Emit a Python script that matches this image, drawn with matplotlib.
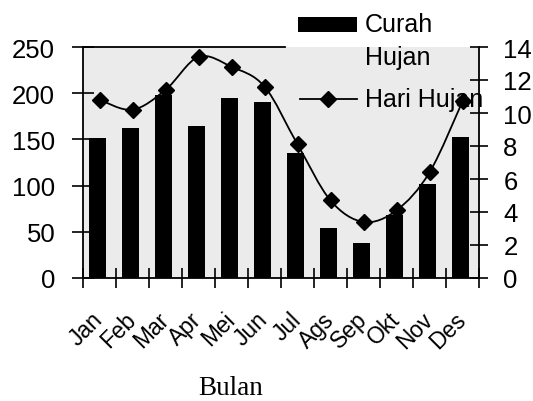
import matplotlib.pyplot as plt
import numpy as np
from matplotlib.path import Path
from matplotlib.patches import PathPatch, Rectangle
from matplotlib.lines import Line2D
from matplotlib.transforms import ScaledTranslation

plt.rcParams['font.family'] = ['Liberation Sans', 'DejaVu Sans']

# data
bulan = ['Jan', 'Feb', 'Mar', 'Apr', 'Mei', 'Jun', 'Jul', 'Ags', 'Sep', 'Okt', 'Nov', 'Des']
curah_hujan = [151, 162, 198, 164, 195, 191, 135, 54, 38, 68, 102, 153]
hari_hujan = [10.8, 10.2, 11.4, 13.4, 12.8, 11.6, 8.1, 4.7, 3.4, 4.1, 6.4, 10.7]


def smooth_path(xs, ys):
    # cubic bezier through the points (like a spreadsheet "smoothed line")
    pts = np.column_stack([xs, ys]).astype(float)
    ext = np.vstack([pts[0], pts, pts[-1]])
    verts = [pts[0]]
    codes = [Path.MOVETO]
    for i in range(len(pts) - 1):
        p0, p1, p2, p3 = ext[i], ext[i + 1], ext[i + 2], ext[i + 3]
        verts += [p1 + (p2 - p0) / 6, p2 - (p3 - p1) / 6, p2]
        codes += [Path.CURVE4] * 3
    return Path(verts, codes)


fig = plt.figure(figsize=(5.33, 4.02), dpi=100)
W, H = 533, 402
ax = fig.add_axes([83 / W, 1 - 279 / H, 396 / W, 231 / H])
ax.set_facecolor('#ebebeb')

x = np.arange(len(bulan))
ax.bar(x - 0.06, curah_hujan, width=0.52, color='black', zorder=2)
ax.set_xlim(-0.5, len(bulan) - 0.5)
ax.set_ylim(0, 250)
ax.set_yticks(range(0, 251, 50))

# ticks on category boundaries, labels on centres
ax.set_xticks(np.arange(-0.5, len(bulan), 1))
ax.set_xticklabels([])
ax.set_xticks(x, minor=True)
ax.set_xticklabels(bulan, minor=True, rotation=45, ha='right', va='center',
                   rotation_mode='anchor', fontsize=16.5)
shift = ScaledTranslation(-0.12, 0, fig.dpi_scale_trans)
for lab in ax.get_xticklabels(minor=True):
    lab.set_transform(lab.get_transform() + shift)
ax.tick_params(axis='x', which='minor', length=0, pad=27)
ax.tick_params(axis='x', which='major', direction='inout', length=15, width=1.2)
ax.tick_params(axis='y', direction='inout', length=16, width=1.2, labelsize=18.5, pad=12)

for s in ['top', 'right']:
    ax.spines[s].set_visible(False)
for s in ['left', 'bottom']:
    ax.spines[s].set_linewidth(1.3)
ax.axhline(250, xmin=0, xmax=0.51, color='black', lw=1.3, clip_on=False)

ax2 = ax.twinx()
ax2.set_ylim(0, 14)
ax2.set_yticks(range(0, 15, 2))
ax2.tick_params(axis='y', direction='inout', length=13, width=1.2, labelsize=18.5, pad=11)
for s in ['top', 'left', 'bottom']:
    ax2.spines[s].set_visible(False)
ax2.spines['right'].set_linewidth(1.3)

ax2.add_patch(PathPatch(smooth_path(x, hari_hujan), facecolor='none',
                        edgecolor='black', lw=1.3, zorder=3))
ax2.plot(x, hari_hujan, 'D', color='black', ms=8, zorder=4)

# legend drawn by hand to follow the reference layout
ft = fig.transFigure
fig.patches.append(Rectangle((298 / W, 1 - 33 / H), 59 / W, 15 / H,
                             facecolor='black', edgecolor='none', transform=ft, figure=fig))
fig.text(365 / W, 1 - 25 / H, 'Curah', fontsize=18, va='center', transform=ft)
fig.text(365 / W, 1 - 58 / H, 'Hujan', fontsize=18, va='center', transform=ft)
fig.lines.append(Line2D([300 / W, 357 / W], [1 - 100 / H] * 2, color='black', lw=1.3,
                        transform=ft, figure=fig))
fig.lines.append(Line2D([328 / W], [1 - 100 / H], marker='D', ms=8, color='black',
                        transform=ft, figure=fig))
fig.text(365 / W, 1 - 100 / H, 'Hari Hujan', fontsize=18, va='center', transform=ft,
         zorder=1)

fig.text(231 / W, 1 - 389 / H, 'Bulan', fontsize=19.5, ha='center', va='center',
         family=['Liberation Serif', 'DejaVu Serif'])

fig.savefig('out.png', dpi=100)
